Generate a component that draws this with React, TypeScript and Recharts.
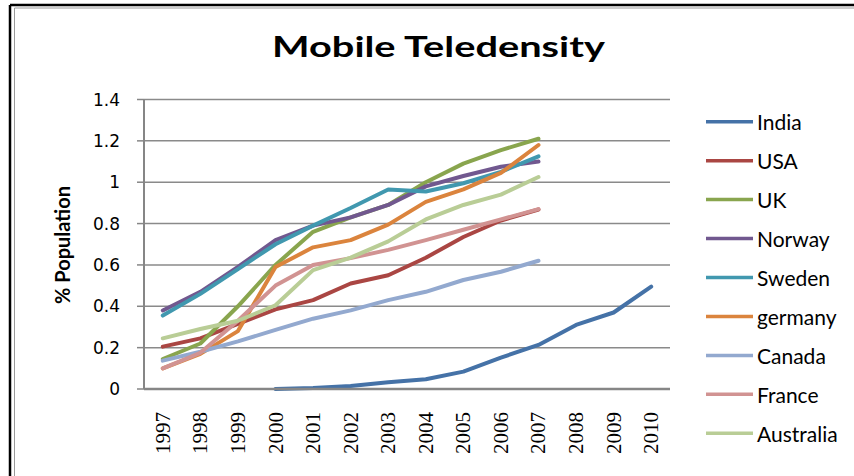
import React from 'react';
import { LineChart, Line, XAxis, YAxis, CartesianGrid } from 'recharts';

const years = ['1997', '1998', '1999', '2000', '2001', '2002', '2003', '2004', '2005', '2006', '2007', '2008', '2009', '2010'];

const india = [null, null, null, 0.0, 0.005, 0.015, 0.033, 0.047, 0.084, 0.152, 0.213, 0.31, 0.37, 0.495];
const usa = [0.205, 0.245, 0.315, 0.385, 0.43, 0.51, 0.55, 0.635, 0.735, 0.815, 0.868, null, null, null];
const uk = [0.145, 0.22, 0.4, 0.6, 0.76, 0.83, 0.89, 1.0, 1.09, 1.155, 1.21, null, null, null];
const norway = [0.38, 0.47, 0.59, 0.72, 0.79, 0.83, 0.89, 0.98, 1.03, 1.075, 1.1, null, null, null];
const sweden = [0.355, 0.46, 0.58, 0.7, 0.79, 0.875, 0.965, 0.955, 0.995, 1.05, 1.125, null, null, null];
const germany = [0.1, 0.17, 0.28, 0.59, 0.685, 0.72, 0.795, 0.905, 0.965, 1.045, 1.18, null, null, null];
const canada = [0.137, 0.18, 0.23, 0.286, 0.34, 0.38, 0.43, 0.47, 0.527, 0.567, 0.62, null, null, null];
const france = [0.1, 0.175, 0.33, 0.5, 0.6, 0.633, 0.673, 0.72, 0.77, 0.82, 0.87, null, null, null];
const australia = [0.245, 0.29, 0.33, 0.405, 0.575, 0.635, 0.714, 0.82, 0.89, 0.94, 1.025, null, null, null];

const seriesNames = ['India', 'USA', 'UK', 'Norway', 'Sweden', 'germany', 'Canada', 'France', 'Australia'];
const seriesValues = [india, usa, uk, norway, sweden, germany, canada, france, australia];
const seriesColors = ['#4572A7', '#AA4643', '#89A54E', '#71588F', '#4198AF', '#DB843D', '#93A9CF', '#D19392', '#B9CD96'];

const yTicks = [0, 0.2, 0.4, 0.6, 0.8, 1, 1.2, 1.4];
const yTickLabels = ['0', '0.2', '0.4', '0.6', '0.8', '1', '1.2', '1.4'];

const titleText = 'Mobile Teledensity';
const yAxisTitle = '% Population';

const data = years.map((year, i) => {
  const row: Record<string, any> = { year };
  seriesNames.forEach((name, j) => {
    row[name] = seriesValues[j][i];
  });
  return row;
});

const YearTick = (props: any) => {
  const { x, y, payload } = props;
  return (
    <text
      transform={`translate(${x},${y + 23}) rotate(-90)`}
      textAnchor="end"
      dominantBaseline="central"
      fontFamily="'Liberation Serif', serif"
      fontSize={21}
      fill="#000"
    >
      {payload.value}
    </text>
  );
};

const ValueTick = (props: any) => {
  const { x, y, payload } = props;
  const idx = yTicks.indexOf(payload.value);
  return (
    <text
      x={x}
      y={y}
      textAnchor="end"
      dominantBaseline="central"
      fontFamily="'DejaVu Sans', sans-serif"
      fontSize={17}
      fill="#000"
    >
      {idx >= 0 ? yTickLabels[idx] : payload.value}
    </text>
  );
};

export default function App() {
  return (
    <div style={{ position: 'absolute', left: 0, top: 0, width: 854, height: 476, background: '#fff' }}>
      <LineChart
        width={854}
        height={476}
        data={data}
        margin={{ top: 99.5, right: 184, left: 0, bottom: 0 }}
      >
        <CartesianGrid vertical={false} stroke="#8a8a8a" strokeWidth={1.5} />
        <XAxis
          dataKey="year"
          height={87}
          tickLine={false}
          tickSize={0}
          tickMargin={0}
          padding={{ left: 18.8, right: 18.8 }}
          axisLine={{ stroke: '#868686', strokeWidth: 2.5 }}
          tick={<YearTick />}
          interval={0}
        />
        <YAxis
          width={144}
          domain={[0, 1.4]}
          ticks={yTicks}
          tickSize={7}
          tickMargin={17}
          tickLine={{ stroke: '#868686', strokeWidth: 1.5 }}
          axisLine={{ stroke: '#868686', strokeWidth: 2 }}
          tick={<ValueTick />}
          interval={0}
        />
        {seriesNames.map((name, j) => (
          <Line
            key={name}
            type="linear"
            dataKey={name}
            stroke={seriesColors[j]}
            strokeWidth={4}
            dot={false}
            activeDot={false}
            isAnimationActive={false}
            strokeLinecap="round"
            strokeLinejoin="round"
          />
        ))}
      </LineChart>
      <svg
        width={854}
        height={476}
        style={{ position: 'absolute', left: 0, top: 0, pointerEvents: 'none' }}
      >
        <line x1={10} y1={5} x2={854} y2={5} stroke="#000" strokeWidth={2.5} />
        <line x1={10} y1={5} x2={10} y2={476} stroke="#000" strokeWidth={2.5} />
        <line x1={14.5} y1={8} x2={854} y2={8} stroke="#9a9a9a" strokeWidth={1} />
        <line x1={14.5} y1={8} x2={14.5} y2={476} stroke="#9a9a9a" strokeWidth={1} />
        <text
          transform="translate(438.5,57) scale(1.42,1)"
          textAnchor="middle"
          fontFamily="Lato, sans-serif"
          fontWeight="bold"
          fontSize={28}
          fill="#000"
        >
          {titleText}
        </text>
        <text
          transform="translate(62,245) rotate(-90)"
          textAnchor="middle"
          dominantBaseline="central"
          fontFamily="Lato, sans-serif"
          fontWeight="bold"
          fontSize={20}
          fill="#000"
        >
          {yAxisTitle}
        </text>
        {seriesNames.map((name, j) => {
          const cy = 121.7 + j * 38.95;
          return (
            <g key={name}>
              <line x1={706} y1={cy} x2={753} y2={cy} stroke={seriesColors[j]} strokeWidth={3.5} />
              <text
                x={757}
                y={cy}
                dominantBaseline="central"
                fontFamily="Lato, sans-serif"
                fontSize={21}
                fill="#000"
              >
                {name}
              </text>
            </g>
          );
        })}
      </svg>
    </div>
  );
}
